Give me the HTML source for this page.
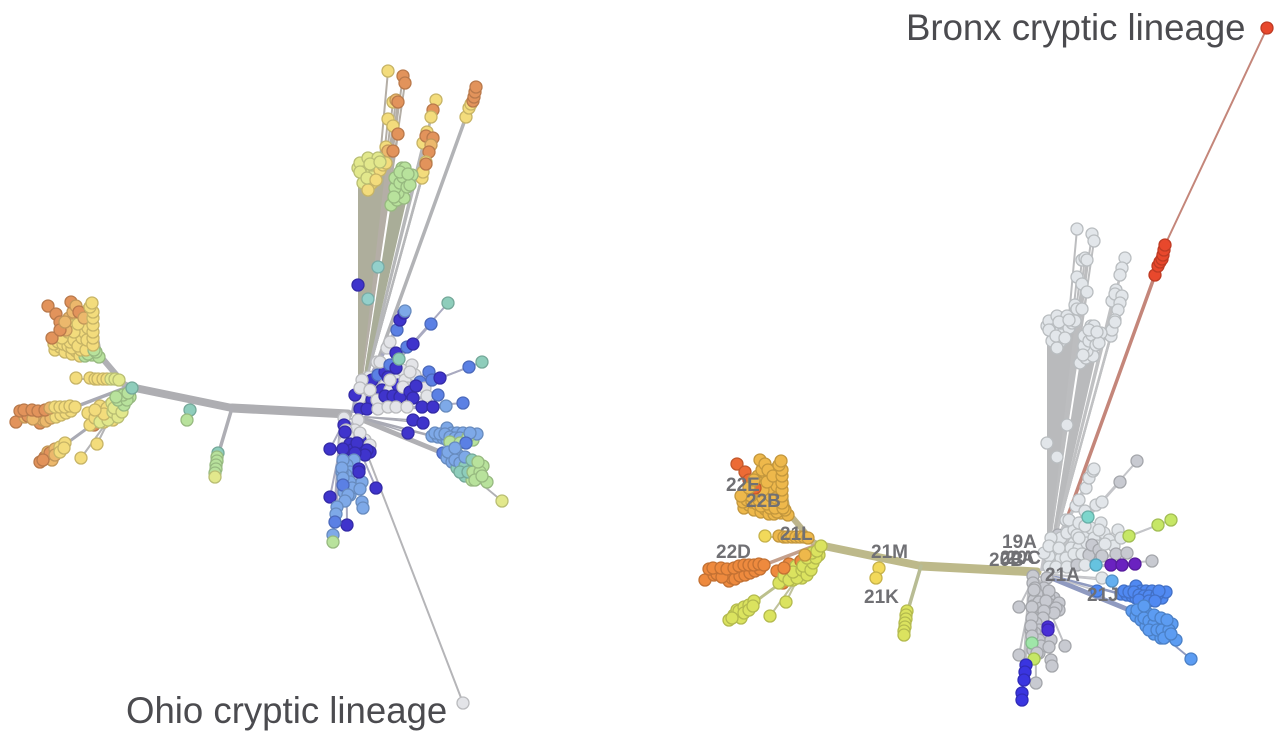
<!DOCTYPE html>
<html lang="en">
<head>
<meta charset="utf-8">
<title>Cryptic lineages phylogeny</title>
<style>
html,body{margin:0;padding:0;background:#fff;width:1285px;height:740px;overflow:hidden}
svg{display:block;font-family:"Liberation Sans",sans-serif}
.clade{font-weight:bold;font-size:19px;fill:#707074}
.call{font-size:36.6px;fill:#4b4b4f}
</style>
</head>
<body>
<svg id="chart" width="1285" height="740" viewBox="0 0 1285 740" xmlns="http://www.w3.org/2000/svg">
<g id="left-tree"></g>
<g id="right-tree"></g>
<g>
<text class="clade" x="726" y="491">22E</text>
<text class="clade" x="746" y="507">22B</text>
<text class="clade" x="780" y="540">21L</text>
<text class="clade" x="716" y="558">22D</text>
<text class="clade" x="871" y="558">21M</text>
<text class="clade" x="864" y="603">21K</text>
<text class="clade" x="1002" y="548">19A</text>
<text class="clade" x="1000" y="564">20A</text>
<text class="clade" x="1006" y="564">20C</text>
<text class="clade" x="989" y="566">20B</text>
<text class="clade" x="1045" y="581">21A</text>
<text class="clade" x="1087" y="601">21J</text>
</g>
<text class="call" x="906" y="40">Bronx cryptic lineage</text>
<text class="call" x="126" y="723">Ohio cryptic lineage</text>
</svg>
<script>
// Unrooted-tree layout coordinates: [x, y, left colour key, right colour key]
const fanTop = [[-245,-50,'Y','a'],[-240,-53,'Y','a'],[-235,-48,'Y','a'],[-228,-46,'Y','a'],[-224,-49,'Y','a'],[-220,-44,'Y','a'],[-215,-44,'G','a'],[-208,-45,'G','a'],[-201,-43,'G','a'],
[-246,-56,'Y','a'],[-242,-58,'Y','a'],[-237,-56,'Y','a'],[-232,-54,'Y','a'],[-228,-52,'Y','a'],[-219,-50,'Y','a'],[-212,-46,'G','a'],[-204,-48,'G','a'],[-234,-62,'Y','a'],[-230,-58,'Y','a'],[-224,-58,'Y','a'],[-218,-56,'Y','a'],[-210,-54,'Y','a'],[-236,-74,'A','a'],[-231,-82,'A','a'],[-226,-76,'Y','a'],[-221,-68,'Y','a'],[-218,-74,'Y','a'],[-217,-80,'A','a'],[-213,-78,'Y','a'],[-212,-84,'Y','a'],[-212,-90,'Y','a'],[-222,-82,'A','a'],
[-238,-62,'Y','a'],[-232,-68,'Y','a'],[-230,-75,'Y','a'],[-226,-60,'Y','a'],[-222,-54,'Y','a'],[-218,-62,'Y','a'],[-214,-50,'Y','a'],[-215,-67,'Y','a'],[-213,-60,'Y','a'],[-212,-72,'Y','a'],[-226,-68,'Y','a'],[-222,-76,'Y','a'],
[-248,-62,'O','a'],[-252,-94,'O','r'],[-244,-86,'O','r'],[-240,-78,'O','r'],[-234,-70,'A','r'],[-240,-70,'O','a'],[-235,-78,'A','a'],[-227,-88,'A','a'],[-229,-98,'O','a'],[-224,-94,'A','a'],[-221,-88,'O','a'],[-216,-82,'A','a'],
[-206,-50,'G','a'],[-207,-55,'Y','a'],[-207,-62,'Y','a'],[-207,-68,'Y','a'],[-207,-75,'Y','a'],[-207,-82,'Y','a'],[-207,-88,'Y','a'],[-210,-93,'Y','a'],[-208,-97,'Y','a']];
const midRow = [[-224,-22,'Y','y'],[-210,-22,'Y','a'],[-205,-21,'Y','a'],[-202,-21,'Y','a'],[-197,-21,'Y','a'],[-193,-21,'Y','a'],[-189,-21,'E','a'],[-185,-21,'E','a'],[-181,-20,'E','a']];
const lowerMain = [[-284,22,'O','o'],[-275,17,'A','o'],[-270,14,'O','o'],[-264,18,'O','o'],[-260,23,'O','o'],[-257,20,'A','o'],[-252,17,'A','o'],[-247,15,'Y','o'],[-242,13,'Y','o'],[-237,12,'Y','o'],[-232,10,'Y','o'],[-227,8,'Y','o'],
[-272,16,'O','o'],[-267,19,'A','o'],[-254,21,'A','o'],[-249,18,'A','o'],[-244,17,'Y','o'],[-239,15,'Y','o'],[-234,13,'Y','o'],[-229,11,'Y','o'],
[-280,11,'O','o'],[-276,10,'O','o'],[-268,10,'O','o'],[-262,11,'O','o'],[-255,10,'O','o'],[-250,8,'A','o'],[-245,7,'Y','o'],[-240,7,'Y','o'],[-235,7,'Y','o'],[-230,6,'Y','o'],[-225,7,'Y','o']];
const nearHub = [[-212,13,'Y','o'],[-206,25,'O','o'],[-210,25,'Y','l'],[-196,22,'Y','l'],[-187,20,'Y','l'],[-192,13,'E','l'],[-183,12,'Y','l'],[-200,15,'Y','l'],[-180,7,'E','l'],[-200,6,'Y','o'],[-193,8,'Y','l'],[-188,3,'E','o'],
[-205,18,'Y','l'],[-200,22,'E','l'],[-192,20,'E','l'],[-196,14,'Y','l'],[-187,12,'E','l'],[-182,17,'E','l'],[-205,10,'Y','o'],[-186,8,'E','l'],[-178,12,'E','l'],[-176,5,'G','l'],[-182,0,'G','l'],[-170,-3,'G','l'],
[-173,0,'G','l'],[-177,-5,'G','l'],[-172,-7,'G','l'],[-184,-3,'G','a'],[-168,-12,'T','l']];
const lowerLeft = [[-260,62,'O','l'],[-255,57,'O','l'],[-248,60,'A','l'],[-252,52,'A','l'],[-250,53,'O','l'],[-245,49,'A','l'],[-240,47,'Y','l'],[-235,43,'Y','l'],[-257,60,'O','l'],[-245,55,'A','l'],[-240,52,'Y','l'],[-236,48,'Y','l']];
const twigs = [[-203,44,'Y','l'],[-219,58,'Y','l']];
const wedgeYellow = [[58,-232,'E','w'],[60,-237,'E','w'],[63,-228,'E','w'],[65,-225,'E','w'],[63,-217,'E','w'],[68,-242,'E','w'],[72,-228,'E','w'],[75,-227,'E','w'],[72,-235,'E','w'],[78,-242,'E','w'],[80,-230,'Y','w'],[83,-235,'Y','w'],[86,-237,'Y','w'],[72,-217,'Y','w'],[68,-210,'Y','w'],[60,-228,'E','w'],[67,-222,'E','w'],[70,-236,'E','w'],[76,-220,'Y','w'],[80,-238,'E','w']];
const wedgeGreen = [[91,-195,'G','w'],[97,-200,'G','w'],[104,-202,'G','w'],[98,-207,'G','w'],[95,-212,'G','w'],[95,-222,'G','w'],[102,-232,'G','w'],[105,-232,'G','w'],[100,-217,'G','w'],[103,-223,'G','w'],[112,-225,'G','w'],[107,-213,'G','w'],[110,-215,'G','w'],[94,-203,'G','w'],[100,-228,'G','w'],[108,-226,'G','w']];
const wedgeStemA = [[88,-329,'Y','w'],[103,-324,'O','w'],[105,-317,'O','w'],[93,-298,'Y','w'],[96,-300,'A','w'],[98,-298,'O','w'],[88,-281,'Y','w'],[93,-274,'Y','w'],[98,-266,'O','w'],[86,-253,'Y','w'],[88,-249,'A','w'],[93,-249,'O','w'],[84,-237,'Y','w']];
const wedgeStemB = [[136,-300,'Y','w'],[133,-290,'O','w'],[131,-283,'Y','w'],[127,-268,'Y','w'],[123,-257,'Y','w'],[126,-264,'O','w'],[133,-262,'O','w'],[131,-255,'A','w'],[129,-248,'O','w'],[122,-222,'Y','w'],[123,-228,'Y','w'],[126,-238,'Y','w'],[126,-236,'O','w']];
const redClump = [[166,-283,'Y','R'],[169,-292,'Y','R'],[171,-296,'Y','R'],[173,-299,'O','R'],[174,-303,'O','R'],[175,-308,'O','R'],[176,-313,'O','R']];
const looseTips = [[78,-133,'C','w'],[58,-115,'D','w'],[68,-101,'C','w']];
const bronxTip = [[278,-530,'W','R']];
const ohioTip = [[163,303,'W','w']];
const upperBlue = [[69,-23,'W','g'],[77,-38,'W','w'],[87,-52,'W','w'],[90,-58,'W','w'],[97,-70,'B','w'],[100,-80,'D','w'],[104,-87,'D','w'],[105,-89,'L','w'],[96,-47,'D','w'],[107,-53,'B','w'],[113,-56,'D','w'],[131,-76,'B','g'],[148,-97,'T','g']];
const denseUpper = [[65,-15,'W','w'],[72,-20,'D','w'],[78,-25,'B','w'],[85,-15,'W','w'],[95,-22,'W','w'],[102,-30,'W','w'],[75,-5,'D','w'],[82,-10,'D','w'],[68,-8,'W','w'],[90,-10,'W','w'],[98,-15,'D','w'],[105,-20,'W','w'],[115,-25,'W','w'],[120,-18,'B','w'],[108,-12,'W','w'],[125,-12,'W','w'],[60,-2,'W','w'],[72,0,'D','w'],[92,-32,'B','w'],[85,-28,'D','w'],[62,-20,'W','w'],[80,-38,'W','w'],[112,-35,'W','w']];
const midBlue = [[90,-35,'B','w'],[96,-32,'D','w'],[88,-23,'D','w'],[110,-28,'W','w'],[129,-28,'B','w'],[132,-20,'B','w'],[140,-22,'D','m'],[169,-33,'B','m'],[182,-38,'T','m'],[99,-41,'T','t']];
const darkRow = [[55,-5,'D','w'],[60,-12,'W','w'],[70,-10,'W','w'],[77,0,'W','w'],[85,-4,'D','w'],[93,-4,'D','w'],[90,-20,'W','w'],[100,-3,'D','g'],[103,-13,'W','g'],[110,-8,'D','g'],[113,-2,'D','g'],[116,-14,'D','w'],[127,-4,'W','g'],[138,-5,'B','g']];
const baseRow = [[60,9,'D','w'],[67,9,'D','w'],[78,9,'W','w'],[88,7,'W','g'],[96,7,'W','w'],[107,7,'W','q'],[122,7,'D','p'],[133,7,'D','p'],[146,6,'L','p'],[163,3,'B','g']];
const innerLower = [[113,20,'D','w'],[123,23,'D','k'],[108,33,'D','n']];
const tealRow = [[132,36,'L','n'],[138,37,'L','n'],[143,38,'L','n'],[147,28,'L','n'],[147,40,'L','n'],[152,33,'L','n'],[157,42,'G','n'],[157,33,'L','n'],[163,33,'L','n'],[173,40,'G','n'],[177,34,'L','n'],
[135,33,'L','n'],[140,34,'L','n'],[145,34,'L','n'],[150,37,'L','n'],[155,38,'L','n'],[160,38,'L','n'],[168,37,'G','n'],[150,42,'G','n'],[160,43,'G','n'],[170,33,'L','n'],[166,43,'B','n']];
const tealFan = [[143,53,'B','s'],[147,58,'L','s'],[152,53,'L','s'],[152,62,'L','s'],[158,55,'L','s'],[157,68,'T','s'],[163,60,'T','s'],[162,67,'T','s'],[165,76,'T','s'],[170,63,'T','s'],[169,70,'T','s'],[172,80,'G','s'],[177,67,'G','s'],[177,77,'G','s'],[183,66,'G','s'],[187,82,'G','s'],
[148,52,'L','s'],[155,60,'L','s'],[160,63,'L','s'],[165,66,'T','s'],[160,72,'T','s'],[168,72,'T','s'],[173,72,'G','s'],[180,72,'G','s'],[175,80,'G','s'],[182,76,'G','s'],[165,57,'L','s'],[172,60,'T','s'],[178,62,'G','s'],[155,48,'L','s'],
[202,101,'E','s']];
const downGrey = [[58,20,'W','g'],[55,30,'W','g'],[65,40,'W','g'],[44,18,'W','g'],[44,25,'D','g'],[46,30,'W','g'],[48,36,'W','g'],[45,42,'W','g'],[45,32,'D','g'],[44,48,'W','g'],[50,44,'D','g'],[48,55,'D','g'],[52,50,'D','g'],[60,40,'D','g'],[62,47,'D','g'],[70,45,'W','g'],[70,52,'D','g'],[43,49,'D','g'],[60,33,'W','g'],[57,43,'D','g'],[67,50,'D','g'],[65,55,'D','g'],[55,53,'D','g'],[54,60,'L','g'],[47,65,'L','g'],[50,72,'L','g'],[46,75,'L','g'],[50,82,'L','g'],[46,90,'L','g'],[50,95,'L','g'],[52,88,'L','g'],[44,92,'L','g'],[42,72,'L','g'],[43,60,'L','g'],[42,68,'L','g'],[43,78,'L','g'],[43,85,'B','v'],[48,95,'L','g'],[45,101,'L','m'],[62,82,'L','g'],[60,89,'L','g'],[62,102,'L','g'],[63,108,'L','g'],[30,49,'D','g'],[76,88,'D','g'],[47,125,'D','g'],[59,69,'D','i'],[59,72,'D','i'],[30,97,'D','g']];
const downBlue = [[37,107,'L','u'],[36,114,'L','u'],[35,122,'B','u'],[33,135,'L','u'],[33,142,'G','u']];

const trunkNodes = [[48,14],[-68,8],[-165,-12],[-177,-16]];
const trunkWidths = [9,8,6];
const kBranch = [[-68,8],[-84,62]];
const kTips = [[-82,53,'T','l'],[-83,57,'G','l'],[-83,61,'G','l'],[-84,65,'G','l'],[-84,69,'G','l'],[-85,73,'G','l'],[-85,77,'E','l']];
const mTips = [[-110,10,'T','y'],[-113,20,'G','y']];

const palette = {O:'#e2935b',A:'#ecb86c',Y:'#f3dc7c',E:'#e2e88c',G:'#b8e29c',T:'#8ecdbb',C:'#93d0cb',L:'#7ea9e8',B:'#5b80e4',D:'#3f34cc',W:'#e3e4e8',
r:'#ec6b35',a:'#eeb84b',o:'#ee8a3e',y:'#f2d95a',l:'#dbe35f',m:'#c6e766',w:'#e2e6ea',g:'#c8cad1',R:'#e8482c',p:'#6a22c0',i:'#4a30d8',u:'#3a35e0',n:'#5089f2',s:'#5c9cf2',k:'#64aff0',t:'#7dd6cc',q:'#66c3e0',v:'#9fe6a8'};

const NS = 'http://www.w3.org/2000/svg';
const panels = [
  {el:document.getElementById('left-tree'), ox:300, oy:400, key:2, side:'left'},
  {el:document.getElementById('right-tree'), ox:989, oy:558, key:3, side:'right'}
];
function xScale(panel,v){return panel.ox+v;}
function yScale(panel,v){return panel.oy+v;}
function darken(hex){
  const n=parseInt(hex.slice(1),16);
  const f=function(c){return Math.round(c*0.82);};
  return 'rgb('+f(n>>16)+','+f((n>>8)&255)+','+f(n&255)+')';
}
function drawLine(panel,a,b,w,color,name){
  const l=document.createElementNS(NS,'line');
  l.setAttribute('x1',xScale(panel,a[0]));
  l.setAttribute('y1',yScale(panel,a[1]));
  l.setAttribute('x2',xScale(panel,b[0]));
  l.setAttribute('y2',yScale(panel,b[1]));
  l.setAttribute('stroke',color);
  l.setAttribute('stroke-width',w);
  l.setAttribute('stroke-linecap','round');
  
  
  panel.el.appendChild(l);
}
function drawFan(panel,hub,pts,color,name){
  const ang=pts.map(function(p){return Math.atan2(p[1]-hub[1],p[0]-hub[0]);});
  const a=pts[ang.indexOf(Math.min.apply(null,ang))], b=pts[ang.indexOf(Math.max.apply(null,ang))];
  const poly=document.createElementNS(NS,'polygon');
  poly.setAttribute('points',[hub,a,b].map(function(p){return xScale(panel,p[0])+','+yScale(panel,p[1]);}).join(' '));
  poly.setAttribute('fill',color);
  
  
  panel.el.appendChild(poly);
}
function drawTip(panel,p,name){
  const c=document.createElementNS(NS,'circle');
  const col=palette[p[panel.key]];
  c.setAttribute('cx',xScale(panel,p[0]));
  c.setAttribute('cy',yScale(panel,p[1]));
  c.setAttribute('r',6);
  c.setAttribute('fill',col);
  c.setAttribute('stroke',darken(col));
  c.setAttribute('stroke-width',1.3);
  
  
  panel.el.appendChild(c);
}
const ROOT=[52,12];
const groups=[
  {name:'wedge-stem-a',pts:wedgeStemA,hub:[57,10],w:2,left:'#b4aea6',right:'#bcbdbf'},
  {name:'wedge-stem-b',pts:wedgeStemB,hub:[58,10],w:2,left:'#b6b7b9',right:'#c0c1c3'},
  {name:'wedge-yellow',pts:wedgeYellow,hub:[58,12],w:1,left:'#aeae9c',right:'#b9babc',fan:true},
  {name:'wedge-green',pts:wedgeGreen,hub:[58,12],w:1,left:'#a9ad98',right:'#b9babc',fan:true},
  {name:'red-clump',pts:redClump,hub:[60,10],stem:[166,-283],stemW:3.5,w:1.5,left:'#b2b3b6',right:'#c4867a'},
  {name:'loose-tips',pts:looseTips,hub:[58,12],w:0,left:'#aeae9c',right:'#b9babc'},
  {name:'bronx-tip',pts:bronxTip,hub:[176,-313],w:2,left:'none',right:'#c4867a',only:'right'},
  {name:'ohio-tip',pts:ohioTip,hub:[54,20],w:2,left:'#b5b5b8',right:'none',only:'left'},
  {name:'top-fan',pts:fanTop,hub:[-175,-15],stem:[-198,-42],stemW:6,w:1.5,left:'#b0b0b5',right:'#bcb48c'},
  {name:'mid-row',pts:midRow,hub:[-175,-15],w:2,left:'#b4b4b6',right:'#c4bc8e'},
  {name:'lower-main',pts:lowerMain,hub:[-175,-12],stem:[-225,7],stemW:3.5,w:1.5,left:'#a9aab4',right:'#c4a08c'},
  {name:'lower-left',pts:lowerLeft,hub:[-185,8],stem:[-237,46],stemW:3,w:1.5,left:'#a9aab4',right:'#bcc08c'},
  {name:'near-hub',pts:nearHub,hub:[-172,-13],w:2,left:'#b4b4b6',right:'#c6c47c'},
  {name:'twigs',pts:twigs,hub:[-190,18],w:2,left:'#b4b4b6',right:'#c0c29c'},
  {name:'upper-blue',pts:upperBlue,hub:ROOT,w:2,left:'#a9aac0',right:'#c4c5c9'},
  {name:'dense-upper',pts:denseUpper,hub:ROOT,w:1.5,left:'#a9aac0',right:'#c4c5c9'},
  {name:'mid-blue',pts:midBlue,hub:ROOT,w:2,left:'#a9aac0',right:'#c4c5c9'},
  {name:'dark-row',pts:darkRow,hub:ROOT,w:2,left:'#a9aac0',right:'#c4c5c9'},
  {name:'base-row',pts:baseRow,hub:ROOT,w:2,left:'#a9aac0',right:'#c4c5c9'},
  {name:'teal-row',pts:tealRow,hub:[55,16],stem:[132,36],stemW:2.5,w:1.5,left:'#a9aab4',right:'#8f9ac0'},
  {name:'teal-fan',pts:tealFan,hub:[55,17],stem:[145,54],stemW:5,w:1.8,left:'#b0b0b4',right:'#8f9ac0'},
  {name:'inner-lower',pts:innerLower,hub:[55,16],w:1.5,left:'#a9aab4',right:'#c4c5c9'},
  {name:'down-grey',pts:downGrey,hub:[46,18],w:2,left:'#a9aac0',right:'#bfc0c4'},
  {name:'down-blue',pts:downBlue,hub:[40,20],w:2,left:'#a9aac0',right:'#bfc0c4'}
];
panels.forEach(function(panel){
  const side=panel.side;
  for(let i=0;i<trunkWidths.length;i++){
    drawLine(panel,trunkNodes[i],trunkNodes[i+1],trunkWidths[i],side==='left'?'#aeaeb2':'#bdb98a','trunk-segment');
  }
  drawLine(panel,kBranch[0],kBranch[1],3.5,side==='left'?'#aeaeb4':'#b8bc94','clade-21k-branch');
  groups.forEach(function(g){
    if(g.only&&g.only!==side)return;
    const col=g[side];
    if(g.stem)drawLine(panel,g.hub,g.stem,g.stemW,col,g.name+'-stem');
    if(g.fan)drawFan(panel,g.hub,g.pts,col,g.name+'-wedge');
    if(g.w>0&&!g.fan){
      const from=g.stem||g.hub;
      g.pts.forEach(function(p){drawLine(panel,from,p,g.w,col,g.name+'-branch');});
    }
  });
  groups.forEach(function(g){
    if(g.only&&g.only!==side)return;
    g.pts.forEach(function(p){drawTip(panel,p,g.name+'-tip');});
  });
  kTips.forEach(function(p){drawTip(panel,p,'clade-21k-tip');});
  mTips.forEach(function(p){drawTip(panel,p,'clade-21m-tip');});
});
</script>
</body>
</html>
